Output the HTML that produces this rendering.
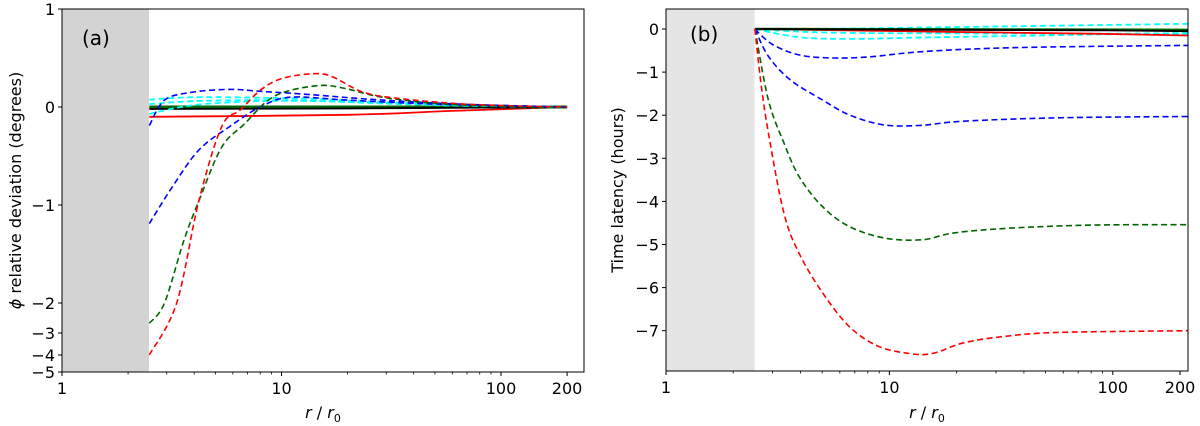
<!DOCTYPE html>
<html><head><meta charset="utf-8"><style>
body{margin:0;background:#fff}
svg{display:block;font-family:"DejaVu Sans","Liberation Sans",sans-serif}
</style></head><body>
<svg id="c" width="1200" height="426" viewBox="0 0 1200 426"></svg>
<script>
// ---- data panel (a): r values and phi deviation (degrees)
const aRedDashR=[2.5,3.33,4.2,5.34,6.5,8,10,14,17,23.6,35,64,120,200];
const aRedDashY=[-4,-2,-0.96,-0.2,-0.03,0.17,0.29,0.34,0.31,0.15,0.085,0.034,0.01,0];
const aGreenDashR=[2.5,2.93,3.58,4.2,5.34,6.8,8.7,11,15.2,19.4,28.8,52,110,200];
const aGreenDashY=[-2.64,-2,-1.37,-0.96,-0.41,-0.17,0.07,0.17,0.22,0.19,0.1,0.034,0.007,0];
const aBlue1R=[2.5,3.17,4.2,5.8,8,11,20,50,200];
const aBlue1Y=[-1.19,-0.82,-0.44,-0.2,0,0.1,0.07,0.03,0];
const aBlue2R=[2.5,2.93,3.9,5.8,8,12.9,28.8,70,200];
const aBlue2Y=[-0.19,0.07,0.15,0.18,0.16,0.13,0.07,0.027,0];
const aCyan1R=[2.5,4,8,15,30,70,200];
const aCyan1Y=[0.075,0.1,0.095,0.08,0.05,0.02,0];
const aCyan2Y=[-0.07,0.02,0.06,0.06,0.04,0.015,0];
const aCyan3Y=[0.03,0.06,0.07,0.06,0.035,0.012,0];
const aSolidR=[2.5,20,60,200];
const aBlackY=[-0.02,-0.015,-0.008,0];
const aGreenY=[0,0,0,0];
const aRedY=[-0.1,-0.08,-0.04,0];
const aYTicks=[1,0,-1,-2,-3,-4,-5];
// ---- data panel (b): time latency (hours)
const bRedDashR=[2.5,2.66,2.87,3.37,3.94,4.99,6.6,8.9,12.3,15.6,21.5,33,57,218];
const bRedDashY=[0,-1.25,-2.4,-4.27,-5.2,-6.1,-6.9,-7.36,-7.53,-7.53,-7.28,-7.13,-7.04,-7.0];
const bGreenDashR=[2.5,2.87,3.37,3.94,4.99,6.6,9.5,14,19.5,35,80,218];
const bGreenDashY=[0,-1.64,-2.64,-3.42,-4.11,-4.58,-4.85,-4.89,-4.73,-4.62,-4.55,-4.54];
const bBlue1R=[2.5,2.87,3.6,4.99,6.6,9.3,13.5,21.5,57,218];
const bBlue1Y=[0,-0.63,-1.18,-1.64,-1.99,-2.22,-2.24,-2.14,-2.06,-2.03];
const bBlue2R=[2.5,3.0,3.94,5.4,8,14.5,39,218];
const bBlue2Y=[0,-0.36,-0.6,-0.67,-0.65,-0.52,-0.43,-0.38];
const bCyanR=[2.5,3.94,6.6,17,218];
const bCyanLowY=[0,-0.19,-0.23,-0.19,-0.09];
const bCyanMidY=[0,-0.06,-0.09,-0.1,-0.11];
const bCyanUpY=[0,0,0.01,0.04,0.12];
const bSolidR=[2.5,20,80,218];
const bBlackY=[0,-0.02,-0.03,-0.05];
const bGreenY=[0,-0.01,-0.015,-0.02];
const bRedY=[0,-0.07,-0.11,-0.15];
const bYTicks=[0,-1,-2,-3,-4,-5,-6,-7];
const xTicks=[1,10,100,200];

const NS="http://www.w3.org/2000/svg";
const svg=document.getElementById('c');
function mk(tag,attrs,parent,text){const e=document.createElementNS(NS,tag);for(const k in attrs)e.setAttribute(k,attrs[k]);if(text!==undefined)e.textContent=text;(parent||svg).appendChild(e);return e;}

function smooth(pts){
  let d='M'+pts[0][0].toFixed(1)+','+pts[0][1].toFixed(1);
  for(let i=0;i<pts.length-1;i++){
    const p0=pts[Math.max(0,i-1)],p1=pts[i],p2=pts[i+1],p3=pts[Math.min(pts.length-1,i+2)];
    const c1=[p1[0]+(p2[0]-p0[0])/6,p1[1]+(p2[1]-p0[1])/6];
    const c2=[p2[0]-(p3[0]-p1[0])/6,p2[1]-(p3[1]-p1[1])/6];
    d+=' C'+c1.map(v=>v.toFixed(1))+' '+c2.map(v=>v.toFixed(1))+' '+p2.map(v=>v.toFixed(1));
  }
  return d;
}

function panel(P){
  const g=mk('g',{});
  
  
  const X=r=>P.x0+P.dec*Math.log10(r);
  const sh=mk('rect',{x:P.x0,y:P.top,width:X(2.49)-P.x0,height:P.bot-P.top,fill:P.shade},g);
  
  
  const clip=mk('clipPath',{id:'cl'+P.id},g);
  mk('rect',{x:P.x0,y:P.top,width:P.x1-P.x0,height:P.bot-P.top},clip);
  const lg=mk('g',{'clip-path':'url(#cl'+P.id+')'},g);
  P.series.forEach(s=>{
    const pts=s.r.map((r,i)=>[X(r),P.Y(s.y[i])]);
    const p=mk('path',{d:smooth(pts),fill:'none',stroke:s.c,'stroke-width':s.w||1.6,'stroke-dasharray':s.dash?'6,3.5':'none'},lg);
    
    
  });
  const fr=mk('rect',{x:P.x0,y:P.top,width:P.x1-P.x0,height:P.bot-P.top,fill:'none',stroke:'#000','stroke-width':1},g);
  
  
  const minors=[2,3,4,5,6,7,8,9,20,30,40,50,60,70,80,90];
  minors.forEach(m=>{const x=X(m);mk('line',{x1:x,x2:x,y1:P.bot,y2:P.bot+2.5,stroke:'#000','stroke-width':0.8},g);});
  xTicks.forEach(t=>{const x=X(t);mk('line',{x1:x,x2:x,y1:P.bot,y2:P.bot+4,stroke:'#000','stroke-width':1},g);
    const tl=mk('text',{x:x,y:P.bot+22,'font-size':16,'text-anchor':'middle'},g,String(t));
    
    });
  P.yt.forEach(t=>{const y=P.Y(t);mk('line',{x1:P.x0-4,x2:P.x0,y1:y,y2:y,stroke:'#000','stroke-width':1},g);
    const tl=mk('text',{x:P.x0-7,y:y+6,'font-size':16,'text-anchor':'end'},g,t<0?'\u2212'+(-t):String(t));
    
    });
  const xl=mk('text',{x:(P.x0+P.x1)/2,y:418,'font-size':16,'text-anchor':'middle'},g);
  
  
  xl.innerHTML='<tspan font-style="italic">r</tspan> / <tspan font-style="italic">r</tspan><tspan font-size="11" dy="4">0</tspan>';
  const yl=mk('text',{x:0,y:0,'font-size':16,'text-anchor':'middle',transform:'translate('+P.ylx+','+((P.top+P.bot)/2)+') rotate(-90)'},g);
  
  
  yl.innerHTML=P.ylab;
  const pl=mk('text',{x:P.lx,y:P.ly,'font-size':20},g,P.lab);
  
  
}

const Ya=v=>v>=-2?107-98*v:302+176*Math.log10(-v/2);
panel({id:'a',name:'panel-a',x0:62,x1:584,dec:219.5,top:9,bot:372,Y:Ya,yt:aYTicks,shade:'#d3d3d3',
  ylx:21,ylab:'<tspan font-style="italic">ϕ</tspan> relative deviation (degrees)',lab:'(a)',lx:82,ly:45,
  series:[
    {n:'red-solid',r:aSolidR,y:aRedY,c:'#f00',w:1.8},
    {n:'green-solid',r:aSolidR,y:aGreenY,c:'#006400',w:3},
    {n:'black-solid',r:aSolidR,y:aBlackY,c:'#000',w:1.8},
    {n:'cyan-dash-1',r:aCyan1R,y:aCyan1Y,c:'#00ffff',dash:1,w:1.8},
    {n:'cyan-dash-2',r:aCyan1R,y:aCyan2Y,c:'#00ffff',dash:1,w:1.8},
    {n:'cyan-dash-3',r:aCyan1R,y:aCyan3Y,c:'#00ffff',dash:1,w:1.8},
    {n:'blue-dash-small',r:aBlue2R,y:aBlue2Y,c:'#0000ff',dash:1},
    {n:'blue-dash-large',r:aBlue1R,y:aBlue1Y,c:'#0000ff',dash:1},
    {n:'green-dash',r:aGreenDashR,y:aGreenDashY,c:'#006400',dash:1},
    {n:'red-dash',r:aRedDashR,y:aRedDashY,c:'#f00',dash:1}
  ]});
const Yb=v=>29-43.1*v;
panel({id:'b',name:'panel-b',x0:666,x1:1188,dec:223.4,top:9,bot:371,Y:Yb,yt:bYTicks,shade:'#e5e5e5',
  ylx:623,ylab:'Time latency (hours)',lab:'(b)',lx:690,ly:41,
  series:[
    {n:'cyan-dash-low',r:bCyanR,y:bCyanLowY,c:'#00ffff',dash:1,w:1.8},
    {n:'cyan-dash-mid',r:bCyanR,y:bCyanMidY,c:'#00ffff',dash:1,w:1.8},
    {n:'cyan-dash-up',r:bCyanR,y:bCyanUpY,c:'#00ffff',dash:1,w:1.8},
    {n:'red-solid',r:bSolidR,y:bRedY,c:'#f00',w:1.8},
    {n:'green-solid',r:bSolidR,y:bGreenY,c:'#006400',w:2.5},
    {n:'black-solid',r:bSolidR,y:bBlackY,c:'#000',w:1.8},
    {n:'blue-dash-small',r:bBlue2R,y:bBlue2Y,c:'#0000ff',dash:1},
    {n:'blue-dash-large',r:bBlue1R,y:bBlue1Y,c:'#0000ff',dash:1},
    {n:'green-dash',r:bGreenDashR,y:bGreenDashY,c:'#006400',dash:1},
    {n:'red-dash',r:bRedDashR,y:bRedDashY,c:'#f00',dash:1}
  ]});
</script>
</body></html>
